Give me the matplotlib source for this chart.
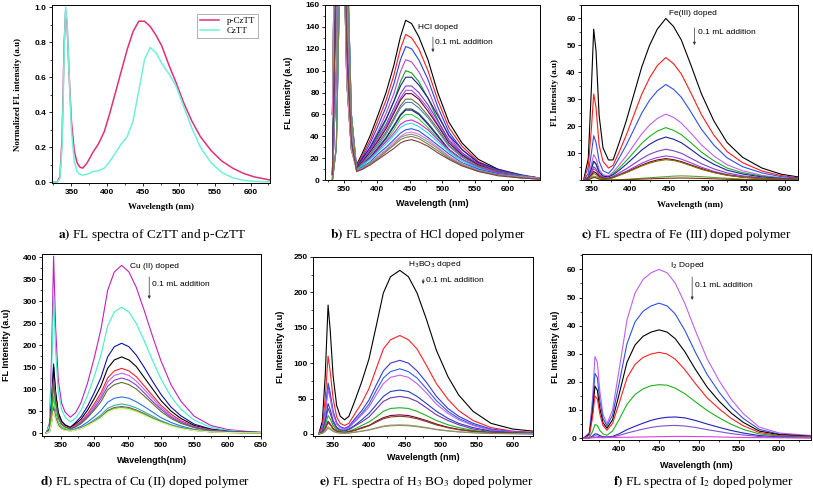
import matplotlib.pyplot as plt
from matplotlib.ticker import MultipleLocator

SANS = "Liberation Sans"
SERIF = "Liberation Serif"
plt.rcParams["font.family"] = [SANS, "DejaVu Sans"]
plt.rcParams["lines.solid_joinstyle"] = "round"

# ---------------- a) CzTT and p-CzTT, normalized
wl_a = [324, 330, 334, 337, 340, 342, 344, 347, 350, 354, 358, 362, 366, 372, 380, 388,
        396, 404, 412, 420, 428, 436, 444, 452, 460, 468, 476, 486, 496, 506, 518, 530,
        545, 560, 575, 590, 605, 627]
pcztt_a = [0, 0, 0.03, 0.25, 0.8, 0.98, 0.9, 0.6, 0.35, 0.18, 0.11, 0.085, 0.08, 0.11, 0.17, 0.22,
           0.29, 0.40, 0.52, 0.64, 0.76, 0.86, 0.92, 0.92, 0.89, 0.84, 0.78, 0.67, 0.57, 0.46, 0.35, 0.26,
           0.18, 0.12, 0.08, 0.05, 0.03, 0.012]
cztt_a = [0, 0, 0.02, 0.2, 0.75, 1.0, 0.92, 0.6, 0.3, 0.12, 0.06, 0.045, 0.04, 0.045, 0.06, 0.065,
          0.08, 0.12, 0.17, 0.22, 0.26, 0.35, 0.52, 0.70, 0.77, 0.74, 0.68, 0.62, 0.55, 0.44, 0.31, 0.20,
          0.11, 0.055, 0.025, 0.01, 0.004, 0.001]

# ---------------- b) HCl doped
wl_b = [332, 338, 343, 348, 354, 361, 369, 378, 390, 402, 414, 426, 436, 444, 453, 464,
        478, 493, 510, 530, 555, 585, 620, 648]
hcl_colors = ["#000000", "#ff1a1a", "#2a3fe0", "#b048e0", "#12a012", "#1e1e9a", "#7a3ec0",
              "#a050ff", "#700030", "#6a7040", "#5080c0", "#1e6040", "#22228a", "#40d040",
              "#e020e0", "#20e0e0", "#3050ff", "#e080c0", "#909090", "#808050", "#804040"]
hcl_curves = [
    [5, 200, 380, 300, 120, 35, 14, 25, 41, 60, 80, 105, 131, 146, 143, 131, 110, 80, 53, 34, 19, 10, 4, 2],
    [60, 350, 400, 250, 90, 28, 13, 23, 37, 55, 73, 96, 120, 133, 130, 120, 100, 73, 48, 31, 17, 9, 4, 2],
    [0, 100, 330, 380, 170, 45, 12, 21, 34, 50, 67, 88, 110, 122, 120, 110, 92, 67, 44, 28, 16, 9, 4, 2],
    [0, 30, 180, 420, 220, 60, 12, 19, 31, 45, 61, 79, 99, 110, 108, 99, 83, 61, 40, 25, 14, 8, 3, 2],
    [5, 200, 380, 300, 120, 35, 12, 17, 28, 41, 55, 72, 90, 100, 98, 90, 75, 55, 36, 23, 13, 7, 3, 2],
    [60, 350, 400, 250, 90, 28, 11, 20, 30, 43, 56, 72, 86, 94, 94, 87, 75, 59, 41, 28, 16, 10, 5, 2],
    [0, 100, 330, 380, 170, 45, 11, 18, 28, 39, 51, 66, 79, 86, 86, 80, 69, 54, 37, 25, 15, 9, 4, 2],
    [0, 30, 180, 420, 220, 60, 11, 17, 27, 37, 49, 63, 75, 82, 82, 76, 66, 51, 36, 24, 14, 8, 4, 2],
    [5, 200, 380, 300, 120, 35, 11, 17, 26, 36, 47, 61, 73, 79, 79, 74, 63, 50, 34, 23, 14, 8, 4, 2],
    [60, 350, 400, 250, 90, 28, 10, 16, 24, 34, 44, 57, 68, 74, 74, 69, 59, 47, 32, 22, 13, 8, 4, 2],
    [0, 100, 330, 380, 170, 45, 10, 15, 23, 32, 42, 55, 66, 71, 71, 66, 57, 45, 31, 21, 12, 7, 4, 2],
    [0, 30, 180, 420, 220, 60, 10, 14, 21, 30, 39, 50, 60, 65, 65, 61, 52, 41, 28, 19, 11, 7, 3, 2],
    [5, 200, 380, 300, 120, 35, 10, 14, 21, 29, 38, 49, 59, 64, 64, 60, 51, 40, 28, 19, 11, 7, 3, 2],
    [60, 350, 400, 250, 90, 28, 10, 13, 20, 27, 36, 46, 56, 60, 60, 56, 48, 38, 26, 18, 10, 6, 3, 2],
    [0, 100, 330, 380, 170, 45, 9, 14, 20, 28, 35, 43, 51, 54, 55, 52, 46, 37, 28, 19, 12, 7, 3, 2],
    [0, 30, 180, 420, 220, 60, 9, 14, 19, 26, 33, 41, 48, 51, 52, 49, 43, 35, 26, 18, 11, 6, 3, 2],
    [5, 200, 380, 300, 120, 35, 9, 12, 17, 24, 30, 37, 43, 46, 47, 45, 39, 32, 24, 16, 10, 6, 3, 2],
    [60, 350, 400, 250, 90, 28, 9, 11, 16, 22, 28, 35, 40, 43, 44, 42, 37, 30, 22, 15, 9, 5, 3, 2],
    [0, 100, 330, 380, 170, 45, 9, 11, 16, 21, 27, 33, 39, 41, 42, 40, 35, 29, 21, 14, 9, 5, 3, 1],
    [0, 30, 180, 420, 220, 60, 8, 10, 15, 20, 26, 32, 37, 39, 40, 38, 33, 27, 20, 14, 8, 5, 2, 1],
    [5, 200, 380, 300, 120, 35, 8, 10, 14, 19, 24, 29, 34, 36, 37, 35, 31, 25, 19, 13, 8, 4, 2, 1],
]

# ---------------- c) Fe(III) doped
wl_c = [340, 346, 350, 353, 356, 360, 365, 372, 378, 386, 395, 405, 415, 425, 435, 446,
        456, 466, 478, 492, 508, 525, 545, 570, 595, 617]
fe_colors = ["#000000", "#ff1a1a", "#3050e0", "#c060f0", "#20b020", "#1e1ea0", "#8040c0",
             "#a040e0", "#700010", "#807000", "#60a040", "#803000"]
fe_curves = [
    [0, 8, 34, 56, 48, 24, 12, 7.5, 7.5, 14, 22, 32, 42, 50, 56, 60, 57, 52, 43, 32, 22, 14, 8.5, 4.5, 2.2, 1.2],
    [0, 5, 19, 32, 27, 13, 7, 4.5, 5.5, 10.6, 16.7, 24.3, 31.9, 37.9, 42.5, 45.5, 43.2, 39.4, 32.6, 24.3, 16.7, 10.6, 6.5, 3.4, 1.7, 0.9],
    [0, 2.5, 10, 16.5, 14, 7, 3.5, 2.5, 4.4, 8.3, 13, 18.9, 24.9, 29.6, 33.1, 35.5, 33.7, 30.8, 25.5, 18.9, 13, 8.3, 5, 2.7, 1.3, 0.7],
    [0, 1.4, 5.7, 9.5, 8, 4, 2, 1.6, 3, 5.7, 9, 13.1, 17.2, 20.4, 22.9, 24.5, 23.3, 21.2, 17.6, 13.1, 9, 5.7, 3.5, 1.8, 0.9, 0.5],
    [0, 1, 4.2, 7, 6, 3, 1.5, 1.2, 2.4, 4.5, 7.2, 10.4, 13.7, 16.2, 18.2, 19.5, 18.5, 16.9, 14, 10.4, 7.2, 4.5, 2.8, 1.5, 0.7, 0.4],
    [0, 1, 4.2, 7, 6, 3, 1.5, 1.2, 2, 3.7, 5.9, 8.5, 11.2, 13.3, 14.9, 16, 15.2, 13.9, 11.5, 8.5, 5.9, 3.7, 2.3, 1.2, 0.6, 0.3],
    [0, 0.7, 3, 5, 4.2, 2.1, 1.1, 0.8, 1.4, 2.7, 4.2, 6.1, 8, 9.6, 10.7, 11.5, 10.9, 10, 8.2, 6.1, 4.2, 2.7, 1.6, 0.9, 0.4, 0.2],
    [0, 0.6, 2.5, 4.2, 3.6, 1.8, 0.9, 0.7, 1.1, 2.1, 3.3, 4.8, 6.3, 7.5, 8.4, 9, 8.6, 7.8, 6.5, 4.8, 3.3, 2.1, 1.3, 0.7, 0.3, 0.2],
    [0, 0.5, 1.9, 3.2, 2.7, 1.4, 0.7, 0.6, 1, 1.9, 2.9, 4.3, 5.6, 6.7, 7.5, 8, 7.6, 6.9, 5.7, 4.3, 2.9, 1.9, 1.1, 0.6, 0.3, 0.2],
    [0, 0.4, 1.5, 2.5, 2.1, 1, 0.5, 0.5, 0.9, 1.8, 2.8, 4, 5.3, 6.3, 7.1, 7.6, 7.3, 6.6, 5.4, 4, 2.8, 1.8, 1.1, 0.6, 0.3, 0.2],
    [0, 0.2, 0.9, 1.5, 1.3, 0.6, 0.3, 0.1, 0.1, 0.2, 0.3, 0.5, 0.7, 0.9, 1.1, 1.3, 1.5, 1.6, 1.5, 1.3, 1.0, 0.7, 0.4, 0.2, 0.1, 0.05],
    [0, 0.15, 0.6, 1, 0.85, 0.4, 0.2, 0.05, 0.05, 0.1, 0.2, 0.3, 0.4, 0.5, 0.6, 0.7, 0.75, 0.8, 0.75, 0.65, 0.5, 0.35, 0.2, 0.1, 0.05, 0.03],
]

# ---------------- d) Cu(II) doped
wl_d = [328, 333, 336, 339, 342, 346, 351, 356, 364, 372, 380, 390, 400, 410, 420, 430,
        441, 452, 463, 475, 488, 500, 515, 530, 550, 575, 600, 625, 650]
cu_colors = ["#c020c0", "#40f0c8", "#1010b0", "#000000", "#ff2020", "#c060ff", "#8040d0",
             "#607030", "#3070e0", "#30b0a0", "#a03060", "#30d030", "#f0f090"]
cu_curves = [
    [0, 24, 181, 402, 241, 121, 68, 48, 36, 46, 69, 114, 171, 236, 324, 366, 381, 366, 331, 278, 217, 164, 110, 72, 38, 17, 8, 4, 2],
    [0, 19, 140, 310, 186, 93, 53, 37, 25, 34, 51, 86, 129, 177, 243, 275, 286, 275, 249, 209, 163, 123, 83, 54, 29, 13, 6, 3, 1.5],
    [0, 9, 71, 157, 94, 47, 27, 19, 13, 24, 37, 61, 92, 126, 173, 196, 204, 196, 177, 149, 116, 88, 59, 39, 20, 9, 4, 2, 1],
    [0, 9, 68, 150, 90, 45, 26, 18, 12, 21, 31, 52, 78, 107, 147, 166, 173, 166, 151, 126, 99, 74, 50, 33, 17, 8, 3.5, 2, 1],
    [0, 7, 55, 122, 73, 37, 21, 15, 10, 18, 26, 44, 66, 91, 125, 141, 147, 141, 128, 107, 84, 63, 43, 28, 15, 7, 3, 1.5, 0.7],
    [0, 7, 54, 120, 72, 36, 20, 14, 10, 16, 24, 41, 61, 84, 116, 131, 136, 131, 118, 99, 78, 58, 39, 26, 14, 6, 3, 1.4, 0.7],
    [0, 7, 53, 118, 71, 35, 20, 14, 9, 15, 23, 38, 56, 78, 106, 120, 125, 120, 109, 91, 71, 54, 36, 24, 13, 6, 2.5, 1.3, 0.6],
    [0, 7, 54, 120, 72, 36, 20, 14, 9, 14, 21, 35, 52, 71, 98, 110, 115, 110, 100, 84, 66, 49, 33, 22, 12, 5, 2.3, 1.2, 0.6],
    [0, 4, 27, 60, 36, 18, 10, 7, 6, 10, 15, 25, 37, 51, 70, 79, 82, 79, 71, 60, 47, 35, 24, 16, 8, 4, 1.6, 0.8, 0.4],
    [0, 3.5, 26, 58, 35, 17, 10, 7, 5, 8, 12, 20, 30, 41, 56, 63, 66, 63, 57, 48, 38, 28, 19, 13, 7, 3, 1.3, 0.7, 0.3],
    [0, 3, 25, 55, 33, 17, 9, 7, 5, 7, 11, 18, 27, 37, 51, 58, 60, 58, 52, 44, 34, 26, 17, 11, 6, 2.7, 1.2, 0.6, 0.3],
    [0, 5, 37, 83, 50, 25, 14, 10, 5, 7, 10, 17, 26, 36, 49, 56, 58, 56, 50, 42, 33, 25, 17, 11, 6, 2.6, 1.2, 0.6, 0.3],
    [0, 3, 23, 50, 30, 15, 8.5, 6, 4, 7, 10, 17, 25, 34, 47, 53, 55, 53, 48, 40, 31, 24, 16, 10, 5.5, 2.5, 1.1, 0.5, 0.3],
]

# ---------------- e) H3BO3 doped
wl_e = [330, 335, 339, 343, 346, 350, 355, 360, 366, 372, 380, 390, 400, 410, 420, 430,
        443, 455, 467, 480, 494, 510, 525, 545, 570, 600, 629]
bo_colors = ["#000000", "#ff2020", "#3838d8", "#3060f0", "#c060f0", "#2040c0", "#7030b0",
             "#20b020", "#800030", "#804020", "#a0a060", "#909070"]
bo_curves = [
    [0, 18, 82, 182, 146, 82, 40, 25, 20, 25, 46, 74, 106, 152, 199, 222, 231, 222, 199, 162, 118, 81, 55, 32, 15, 7, 4],
    [0, 11, 50, 110, 88, 50, 24, 15, 12, 15, 28, 44, 64, 92, 120, 133, 139, 133, 120, 97, 71, 49, 33, 19, 9, 4, 2.4],
    [0, 7, 32, 72, 58, 32, 16, 10, 8, 11, 21, 33, 48, 69, 89, 100, 104, 100, 89, 73, 53, 36, 25, 15, 7, 3, 1.8],
    [0, 7, 31, 68, 54, 31, 15, 10, 7, 10, 18, 29, 42, 61, 79, 88, 92, 88, 79, 64, 47, 32, 22, 13, 6, 2.8, 1.6],
    [0, 6, 28, 62, 50, 28, 14, 9, 6.5, 9, 17, 27, 38, 55, 71, 80, 83, 80, 71, 58, 42, 29, 20, 12, 5.4, 2.5, 1.4],
    [0, 4, 19, 43, 34, 19, 9.5, 6, 5, 7, 12, 20, 29, 41, 53, 60, 62, 60, 53, 43, 32, 22, 15, 9, 4, 1.9, 1],
    [0, 4, 16, 36, 29, 16, 8, 5, 4, 6, 11, 17, 24, 35, 46, 51, 53, 51, 46, 37, 27, 19, 13, 7, 3.4, 1.6, 0.9],
    [0, 3, 12, 26, 21, 12, 6, 3.6, 3, 4, 7, 12, 17, 24, 32, 36, 37, 36, 32, 26, 19, 13, 9, 5, 2.4, 1.1, 0.6],
    [0, 2, 8, 18, 14, 8, 4, 2.5, 2, 3, 5, 9, 12, 18, 23, 26, 27, 26, 23, 19, 14, 9.5, 6.5, 3.8, 1.8, 0.8, 0.5],
    [0, 1.6, 7, 16, 13, 7, 3.5, 2.2, 1.8, 2.8, 5, 8, 11.5, 16.5, 21.5, 24, 25, 24, 21.5, 17.5, 12.8, 8.8, 6, 3.5, 1.6, 0.8, 0.4],
    [0, 1, 4.5, 10, 8, 4.5, 2.2, 1.4, 1.1, 1.4, 2.6, 4.2, 6, 8.6, 11.2, 12.5, 13, 12.5, 11.2, 9.1, 6.6, 4.6, 3.1, 1.8, 0.8, 0.4, 0.2],
    [0, 0.8, 3.6, 8, 6.4, 3.6, 1.8, 1.1, 0.9, 1.3, 2.4, 3.8, 5.5, 7.9, 10.3, 11.5, 12, 11.5, 10.3, 8.4, 6.1, 4.2, 2.9, 1.7, 0.8, 0.4, 0.2],
]

# ---------------- f) I2 doped
wl_f = [356, 363, 367, 370, 373, 376, 380, 385, 392, 400, 410, 420, 430, 440, 450, 460,
        470, 482, 495, 510, 525, 540, 555, 575, 600, 640]
i2_colors = ["#c060f0", "#3050e0", "#000000", "#ff2020", "#20b020", "#2020c0", "#8050d0", "#e040e0"]
i2_curves = [
    [0, 2, 14, 29, 27, 17, 8.5, 5.1, 10, 24, 42, 51.6, 56.4, 58.8, 60, 58.8, 55.2, 48, 38.4, 28.2, 20.4, 13.8, 8.7, 3.9, 1.8, 0.9],
    [0, 1.6, 11, 23, 21.5, 13.5, 7, 4.3, 8.2, 19.2, 33.6, 41.3, 45.1, 47, 48, 47, 44.2, 38.4, 30.7, 22.6, 16.3, 11, 7, 3.1, 1.4, 0.7],
    [0, 1.3, 9, 18.5, 17, 10.7, 5.5, 3.5, 6.5, 15.4, 27, 33.1, 36.2, 37.7, 38.5, 37.7, 35.4, 30.8, 24.6, 18.1, 13.1, 8.9, 5.6, 2.5, 1.2, 0.6],
    [0, 1, 7.3, 15, 14, 8.7, 4.5, 2.8, 5.2, 12.2, 21.4, 26.2, 28.7, 29.9, 30.5, 29.9, 28.1, 24.4, 19.5, 14.3, 10.4, 7, 4.4, 2, 0.9, 0.5],
    [0, 0.3, 2.3, 4.8, 4.5, 2.8, 1.5, 1, 2.5, 6.5, 12, 15.5, 17.5, 18.6, 19, 18.8, 17.8, 15.8, 13, 9.8, 7.2, 4.9, 3.1, 1.5, 0.7, 0.3],
    [0, 0.1, 0.7, 1.5, 1.4, 0.9, 0.5, 0.4, 0.6, 1.5, 3, 4.2, 5.3, 6.3, 7, 7.4, 7.5, 7.2, 6.3, 5, 3.8, 2.7, 1.8, 0.9, 0.4, 0.2],
    [0, 0.05, 0.4, 0.8, 0.7, 0.5, 0.3, 0.3, 0.4, 0.9, 1.8, 2.5, 3.2, 3.8, 4.2, 4.4, 4.5, 4.3, 3.8, 3, 2.3, 1.6, 1.1, 0.55, 0.25, 0.1],
    [0, 0, 0.1, 0.2, 0.2, 0.15, 0.1, 0.2, 0.2, 0.25, 0.3, 0.35, 0.4, 0.45, 0.5, 0.55, 0.6, 0.6, 0.55, 0.5, 0.4, 0.3, 0.2, 0.15, 0.1, 0.05],
]


def style_axes(ax, xlim, ylim, xstep, ystep, xlabel, ylabel, label_font, xlab_y, ylab_x, yticks=None):
    ax.set_xlim(*xlim)
    ax.set_ylim(*ylim)
    ax.xaxis.set_major_locator(MultipleLocator(xstep))
    ax.xaxis.set_minor_locator(MultipleLocator(xstep / 2))
    if yticks is None:
        ax.yaxis.set_major_locator(MultipleLocator(ystep))
    else:
        ax.set_yticks(yticks)
    ax.yaxis.set_minor_locator(MultipleLocator(ystep / 2))
    ax.tick_params(which="major", direction="out", length=2.5, width=0.6, pad=1.5,
                   labelsize=6)
    ax.tick_params(which="minor", direction="out", length=1.4, width=0.5)
    for lab in ax.get_xticklabels() + ax.get_yticklabels():
        lab.set_fontweight("bold")
        lab.set_family(SANS)
    for sp in ax.spines.values():
        sp.set_linewidth(0.7)
    ax.set_xlabel(xlabel, family=label_font, fontweight="bold", fontsize=6.5)
    ax.set_ylabel(ylabel, family=label_font, fontweight="bold", fontsize=6.5)
    ax.xaxis.set_label_coords(0.5, xlab_y)
    ax.yaxis.set_label_coords(ylab_x, 0.5)


def add_note(ax, title, tx, ty, ax_x, ay0, ay1, nx, ny):
    ax.text(tx, ty, title, transform=ax.transAxes, fontsize=6, va="center", ha="left")
    ax.annotate("", xy=(ax_x, ay1), xytext=(ax_x, ay0), xycoords="axes fraction",
                arrowprops=dict(arrowstyle="-|>", lw=0.5, color="#333333",
                                mutation_scale=4, shrinkA=0, shrinkB=0))
    ax.text(nx, ny, "0.1 mL addition", transform=ax.transAxes, fontsize=6,
            va="center", ha="left")


fig = plt.figure(figsize=(8.13, 4.95), dpi=100)

# a)
ax = fig.add_axes([0.064, 0.630, 0.268, 0.360])
ax.plot(wl_a, pcztt_a, color="#e0307a", lw=1.1, label="p-CzTT")
ax.plot(wl_a, cztt_a, color="#70f0d8", lw=1.1, label="CzTT")
style_axes(ax, (323, 627), (-0.006, 1.013), 50, 0.2, "Wavelength (nm)",
           "Normalized FL intensity (a.u)", SERIF, -0.11, -0.14)
ax.legend(loc="upper right", prop={"family": SERIF, "size": 6.5}, frameon=True,
          fancybox=False, edgecolor="#777777", handlelength=2.2, borderpad=0.3,
          labelspacing=0.2, bbox_to_anchor=(0.965, 0.975)).get_frame().set_linewidth(0.5)

# b)
ax = fig.add_axes([0.400, 0.636, 0.264, 0.354])
for col, ys in zip(hcl_colors, hcl_curves):
    ax.plot(wl_b, ys, color=col, lw=0.8)
style_axes(ax, (321, 649), (0, 160), 50, 20, "Wavelength (nm)", "FL intensity (a.u)",
           SANS, -0.106, -0.151)
add_note(ax, "HCl doped", 0.433, 0.874, 0.502, 0.817, 0.731, 0.512, 0.783)

# c)
ax = fig.add_axes([0.715, 0.636, 0.267, 0.354])
for col, ys in zip(fe_colors, fe_curves):
    ax.plot(wl_c, ys, color=col, lw=0.8)
style_axes(ax, (337, 617), (0, 65), 50, 10, "Wavelength (nm)", "FL Intensity (a.u)",
           SERIF, -0.117, -0.104, yticks=[10, 20, 30, 40, 50, 60])
add_note(ax, "Fe(III) doped", 0.405, 0.949, 0.521, 0.869, 0.771, 0.539, 0.84)

# d)
ax = fig.add_axes([0.052, 0.119, 0.269, 0.368])
for col, ys in zip(cu_colors, cu_curves):
    ax.plot(wl_d, ys, color=col, lw=0.8)
style_axes(ax, (322, 650), (-7, 407), 50, 50, "Wavelength(nm)", "FL Intensity (a.u)",
           SANS, -0.107, -0.144)
add_note(ax, "Cu (II) doped", 0.402, 0.929, 0.489, 0.874, 0.753, 0.503, 0.83)

# e)
ax = fig.add_axes([0.385, 0.119, 0.271, 0.362])
for col, ys in zip(bo_colors, bo_curves):
    ax.plot(wl_e, ys, color=col, lw=0.8)
style_axes(ax, (322, 629), (-3, 250), 50, 50, "Wavelength (nm)", "FL Intensity (a.u)",
           SANS, -0.092, -0.125)
add_note(ax, "H$_3$BO$_3$ doped", 0.432, 0.955, 0.5, 0.877, 0.849, 0.514, 0.866)

# f)
ax = fig.add_axes([0.716, 0.111, 0.282, 0.376])
for col, ys in zip(i2_colors, i2_curves):
    ax.plot(wl_f, ys, color=col, lw=0.8)
style_axes(ax, (354, 640), (-0.7, 65.5), 50, 10, "Wavelength (nm)", "FL Intensity (a.u)",
           SANS, -0.110, -0.098)
add_note(ax, "I$_2$ Doped", 0.384, 0.94, 0.48, 0.876, 0.753, 0.493, 0.833)

# captions
captions = [
    (0.187, 0.525, r"$\mathbf{a)}$ FL spectra of CzTT and p-CzTT"),
    (0.526, 0.525, r"$\mathbf{b)}$ FL spectra of HCl doped polymer"),
    (0.844, 0.525, r"$\mathbf{c)}$ FL spectra of Fe (III) doped polymer"),
    (0.178, 0.027, r"$\mathbf{d)}$ FL spectra of Cu (II) doped polymer"),
    (0.525, 0.027, r"$\mathbf{e)}$ FL spectra of H$_3$ BO$_3$ doped polymer"),
    (0.865, 0.027, r"$\mathbf{f)}$ FL spectra of I$_2$ doped polymer"),
]
for cx, cy, txt in captions:
    fig.text(cx, cy, txt, ha="center", va="center", family=SERIF, fontsize=9.5,
             math_fontfamily="stix")

fig.savefig("out.png", dpi=100, facecolor="white")
